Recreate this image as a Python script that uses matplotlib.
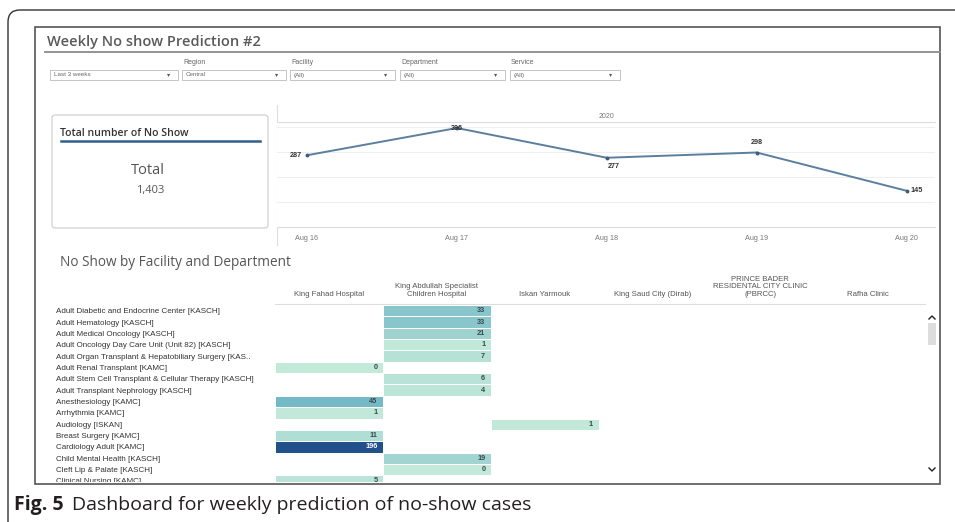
"""Weekly no-show prediction dashboard (Fig. 5 recreation)."""
import numpy as np
import matplotlib
matplotlib.use("Agg")
import matplotlib.pyplot as plt
from matplotlib.patches import Rectangle, FancyBboxPatch
from matplotlib.colors import LinearSegmentedColormap
from matplotlib.transforms import Bbox, TransformedBbox

W, H = 955, 522
plt.rcParams.update({"font.family": ["Liberation Sans", "DejaVu Sans"]})

# ---- data ----
days = ["Aug 16", "Aug 17", "Aug 18", "Aug 19", "Aug 20"]
weekly = [287, 396, 277, 298, 145]

filters = ["", "Region", "Facility", "Department", "Service"]
filter_vals = ["Last 3 weeks", "Central", "(All)", "(All)", "(All)"]

facilities = ["King Fahad Hospital", "King Abdullah Specialist\nChildren Hospital",
              "Iskan Yarmouk", "King Saud City (Dirab)",
              "PRINCE BADER\nRESIDENTAL CITY CLINIC\n(PBRCC)", "Rafha Clinic"]
departments = [
    "Adult Diabetic and Endocrine Center [KASCH]",
    "Adult Hematology [KASCH]",
    "Adult Medical Oncology [KASCH]",
    "Adult Oncology Day Care Unit (Unit 82) [KASCH]",
    "Adult Organ Transplant & Hepatobiliary Surgery [KAS..",
    "Adult Renal Transplant [KAMC]",
    "Adult Stem Cell Transplant & Cellular Therapy [KASCH]",
    "Adult Transplant Nephrology [KASCH]",
    "Anesthesiology [KAMC]",
    "Arrhythmia [KAMC]",
    "Audiology [ISKAN]",
    "Breast Surgery [KAMC]",
    "Cardiology Adult [KAMC]",
    "Child Mental Health [KASCH]",
    "Cleft Lip & Palate [KASCH]",
    "Clinical Nursing [KAMC]",
]
# facility column of each department and its no-show count
dept_facility = [1, 1, 1, 1, 1, 0, 1, 1, 0, 0, 2, 0, 0, 1, 1, 0]
dept_count = [33, 33, 21, 1, 7, 0, 6, 4, 45, 1, 1, 11, 196, 19, 0, 5]


def px_axes(l, t, r, b):
    return fig.add_axes([l / W, 1 - b / H, (r - l) / W, (b - t) / H])


fig = plt.figure(figsize=(W / 100, H / 100), dpi=100)

# background canvas in pixel coords
bg = fig.add_axes([0, 0, 1, 1])
bg.set_xlim(0, W)
bg.set_ylim(H, 0)
bg.axis("off")

# outer page frame with rounded corner
bg.add_patch(FancyBboxPatch((8, 10), 2000, 2000, boxstyle="round,pad=0,rounding_size=12",
                            fc="none", ec="#333333", lw=1.0))
# dashboard frame
bg.add_patch(Rectangle((35, 27), 905, 457, fc="none", ec="#555555", lw=1.2))
bg.text(47, 42, "Weekly No show Prediction #2", fontsize=10.5, color="#5a5a5a",
        family=["Open Sans", "DejaVu Sans"], fontweight="semibold", va="center")
bg.plot([45, 940], [52, 52], color="#8a8a8a", lw=1.3)

# filter dropdowns
fx = [(50, 178), (182, 286), (290, 395), (400, 505), (510, 620)]
for (x0, x1), lab, val in zip(fx, filters, filter_vals):
    bg.text(x0 + 1, 62, lab, fontsize=5, color="#666666", va="center")
    bg.add_patch(Rectangle((x0, 70), x1 - x0, 10, fc="white", ec="#bbbbbb", lw=0.6))
    bg.text(x0 + 4, 75, val, fontsize=4.5, color="#666666", va="center")
    bg.text(x1 - 9, 75, "▾", fontsize=4.5, color="#555555", va="center", ha="center")

# total KPI card
bg.add_patch(FancyBboxPatch((52, 115), 216, 113, boxstyle="round,pad=0,rounding_size=3",
                            fc="white", ec="#cccccc", lw=0.8))
bg.text(60, 133, "Total number of No Show", fontsize=7.6, color="#333333",
        family=["Open Sans", "DejaVu Sans"], fontweight="semibold", va="center")
bg.plot([61, 260], [141, 141], color="#2f5f8a", lw=1.8)
bg.text(148, 171, "Total", fontsize=10.5, color="#555555", ha="center", va="center",
        family=["Open Sans", "DejaVu Sans"])
bg.text(150, 190, f"{sum(weekly):,}", fontsize=8, color="#555555", ha="center",
        va="center", family=["Open Sans", "DejaVu Sans"])

# line chart panel decoration
bg.plot([277, 277], [105, 245], color="#dddddd", lw=0.8)
bg.text(606, 116, "2020", fontsize=5, color="#777777", ha="center", va="center")

ax = px_axes(277, 122, 935, 227)
x = np.arange(len(days))
ax.plot(x, weekly, color="#5b7f9f", lw=1.4, marker="o", ms=1.8, mfc="#3d5f7d", mec="#3d5f7d")
ax.set_xlim(-0.2, 4.19)
ax.set_ylim(0, 420)
ax.set_yticks([100, 200, 300, 400])
ax.yaxis.grid(True, color="#eeeeee", lw=0.7)
ax.set_yticklabels([])
ax.tick_params(axis="y", length=0)
ax.set_xticks(x)
ax.set_xticklabels(days)
ax.tick_params(axis="x", length=0, labelsize=5.2, labelcolor="#777777", pad=6)
for s in ["left", "right"]:
    ax.spines[s].set_visible(False)
for s in ["top", "bottom"]:
    ax.spines[s].set_color("#dddddd")
    ax.spines[s].set_linewidth(0.8)
lab_off = [(-4, 0, "right", "center"), (0, 0, "center", "center"),
           (5, -6, "center", "center"), (0, 7, "center", "center"),
           (3, 0, "left", "center")]
for xi, v, (dx, dy, ha, va) in zip(x, weekly, lab_off):
    ax.annotate(str(v), (xi, v), xytext=(dx, dy), textcoords="offset points",
                fontsize=5.2, color="#333333", fontweight="bold", ha=ha, va=va)

# facility x department highlight table
bg.text(60, 262, "No Show by Facility and Department", fontsize=9.8, color="#555555",
        family=["Open Sans", "DejaVu Sans"], va="center")
bg.plot([275, 925], [304, 304], color="#dddddd", lw=0.8)

hm = px_axes(275, 305, 922, 481.5)
mat = np.full((len(departments), len(facilities)), np.nan)
for r, (c, v) in enumerate(zip(dept_facility, dept_count)):
    mat[r, c] = v
cmap = LinearSegmentedColormap.from_list(
    "bluteal", [(0, "#c2e9d9"), (0.23, "#73b9c6"), (1, "#22508a")])
hm.pcolormesh(np.arange(len(facilities) + 1), np.arange(len(departments) + 1),
              np.ma.masked_invalid(mat), cmap=cmap, vmin=0, vmax=196,
              edgecolors="white", linewidth=0.6)
hm.set_xlim(0, len(facilities))
hm.set_ylim(15.55, 0)

# the table is scrolled: cut everything at the bottom of the view
clip = TransformedBbox(Bbox([[0, 1 - 481.5 / H], [1, 1]]), fig.transFigure)
for r, (c, v) in enumerate(zip(dept_facility, dept_count)):
    t = hm.text(c + 0.95, r + 0.5, str(v), fontsize=5.3, ha="right", va="center",
                color="white" if v > 120 else "#3a4a4a", fontweight="bold")
    t.set_clip_box(clip)
    t.set_clip_on(True)
hm.set_yticks(np.arange(len(departments)) + 0.5)
hm.set_yticklabels(departments, ha="left")
hm.tick_params(axis="y", length=0, labelsize=5.8, labelcolor="#333333", pad=158)
for lab in hm.get_yticklabels():
    lab.set_clip_box(clip)
    lab.set_clip_on(True)
hm.set_xticks(np.arange(len(facilities)) + 0.5)
hm.set_xticklabels(facilities, linespacing=1.15)
hm.xaxis.tick_top()
hm.tick_params(axis="x", length=0, labelsize=5.6, labelcolor="#555555", pad=5)
for s in hm.spines.values():
    s.set_visible(False)

# scrollbar
bg.plot([929, 932, 935], [319, 316, 319], color="#222222", lw=1)
bg.add_patch(Rectangle((928, 323), 8, 22, fc="#dddddd", ec="none"))
bg.plot([929, 932, 935], [468, 471, 468], color="#222222", lw=1)

# caption
bg.text(14, 505, "Fig. 5", fontsize=14, fontweight="bold", color="#231f20",
        family=["Open Sans", "DejaVu Sans"], va="center")
bg.text(72, 505, "Dashboard for weekly prediction of no-show cases", fontsize=14,
        color="#231f20", family=["Open Sans", "DejaVu Sans"], va="center")

fig.savefig("out.png", dpi=100)
